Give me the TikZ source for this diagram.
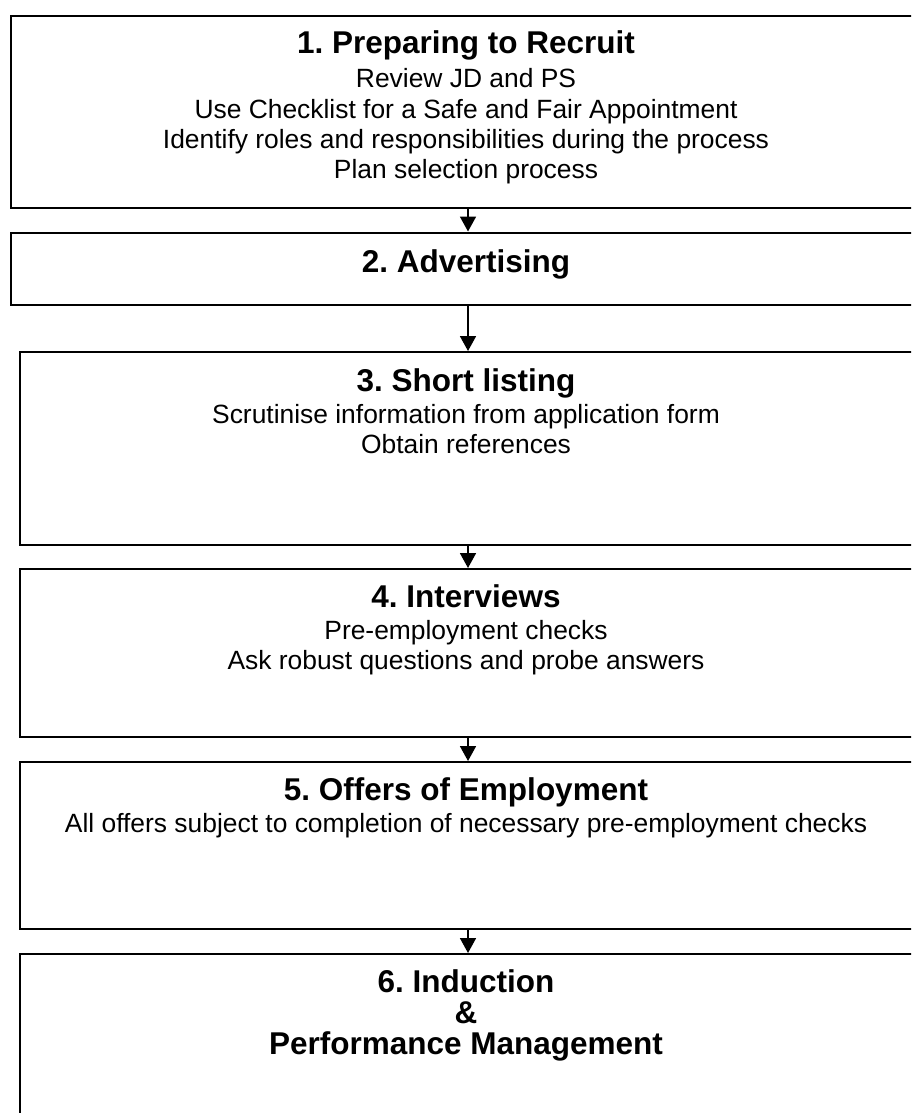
\documentclass[tikz,border=0pt]{standalone}
\usepackage{fontspec}
\setmainfont{Liberation Sans}
\usetikzlibrary{arrows.meta}
\frenchspacing
\begin{document}
\begin{tikzpicture}[x=1pt,y=-1pt,
  stage/.style={draw=black, line width=2pt, inner sep=0pt, anchor=north west},
  ttl/.style={font=\fontsize{31.5}{31.5}\selectfont\bfseries, anchor=base, inner sep=0pt},
  txt/.style={font=\fontsize{26.4}{30}\selectfont, anchor=base, inner sep=0pt},
  flow/.style={line width=1.8pt, -{Triangle[width=16pt,length=15pt]}}]
\useasboundingbox (0,0) rectangle (911,1113);
\clip (0,0) rectangle (911,1113);

% stage boxes (right edges run past the page)
\node[stage, minimum width=915pt, minimum height=192pt]   (b1) at (9.5,15) {};
\node[stage, minimum width=915pt, minimum height=72pt]    (b2) at (9.5,231.5) {};
\node[stage, minimum width=896pt, minimum height=192.5pt] (b3) at (19,351) {};
\node[stage, minimum width=896pt, minimum height=168pt]   (b4) at (19,568) {};
\node[stage, minimum width=896pt, minimum height=167pt]   (b5) at (19,761) {};
\node[stage, minimum width=896pt, minimum height=220pt]   (b6) at (19,953) {};

% stage 1
\node[ttl] (t1)  at (466,54)    {1. Preparing to Recruit};
\node[txt] (d1a) at (466,88)    {Review JD and PS};
\node[txt] (d1b) at (466,118.2) {Use Checklist for a Safe and Fair Appointment};
\node[txt] (d1c) at (466,148.4) {Identify roles and responsibilities during the process};
\node[txt] (d1d) at (466,178.6) {Plan selection process};
% stage 2
\node[ttl] (t2)  at (466,272)   {2. Advertising};
% stage 3
\node[ttl] (t3)  at (466,391)   {3. Short listing};
\node[txt] (d3a) at (466,423)   {Scrutinise information from application form};
\node[txt] (d3b) at (466,453.4) {Obtain references};
% stage 4
\node[ttl] (t4)  at (466,607.5) {4. Interviews};
\node[txt] (d4a) at (466,639.5) {Pre-employment checks};
\node[txt] (d4b) at (466,669.9) {Ask robust questions and probe answers};
% stage 5
\node[ttl] (t5)  at (466,800.5) {5. Offers of Employment};
\node[txt] (d5a) at (466,832.5) {All offers subject to completion of necessary pre-employment checks};
% stage 6
\node[ttl] (t6a) at (466,992)   {6. Induction};
\node[ttl] (t6b) at (466,1023)  {\&};
\node[ttl] (t6c) at (466,1054)  {Performance Management};

% connectors
\draw[flow] (b1.south) -- (b2.north);
\draw[flow] (b2.south) -- (b3.north);
\draw[flow] (b3.south) -- (b4.north);
\draw[flow] (b4.south) -- (b5.north);
\draw[flow] (b5.south) -- (b6.north);
\end{tikzpicture}
\end{document}
